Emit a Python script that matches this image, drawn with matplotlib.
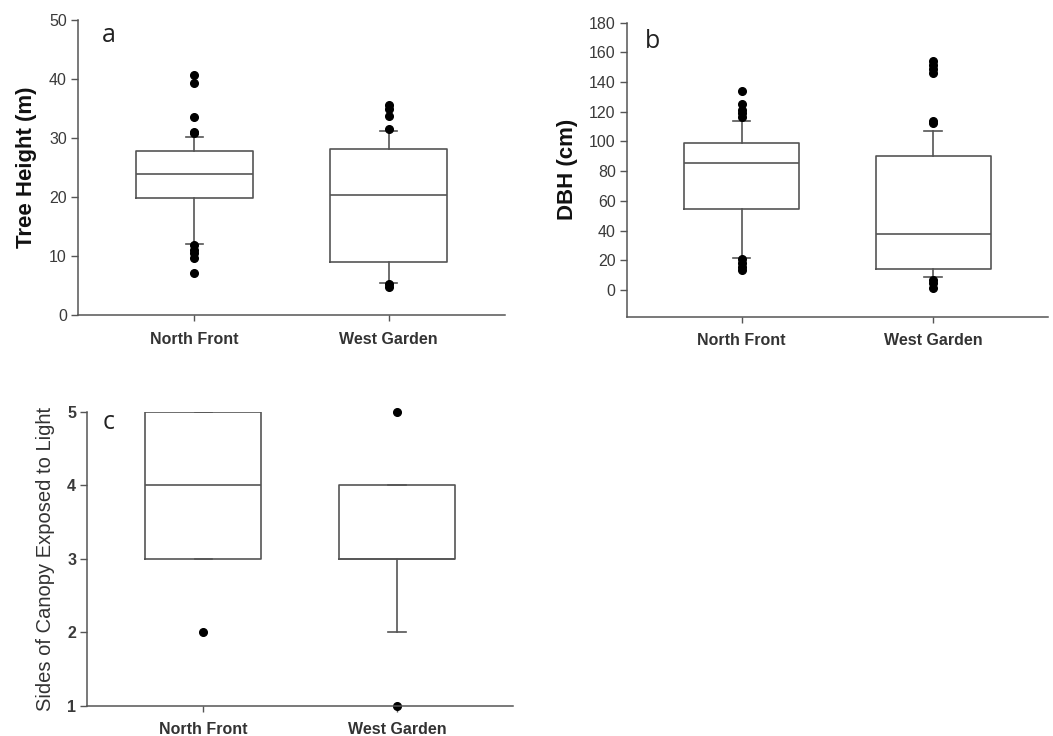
import matplotlib
matplotlib.use("Agg")
import matplotlib.pyplot as plt

plt.rcParams['font.family'] = ['Liberation Sans', 'DejaVu Sans']

sites = ["North Front", "West Garden"]

# tree height (m)
height_q1 = [19.8, 9.0]
height_med = [23.9, 20.4]
height_q3 = [27.8, 28.1]
height_lo = [12.1, 5.5]
height_hi = [30.1, 31.2]
height_out = [[40.6, 39.3, 33.6, 31.1, 30.8, 11.9, 11.0, 10.5, 9.6, 7.1],
              [35.6, 34.9, 33.7, 31.6, 5.2, 4.7]]

# diameter at breast height (cm)
dbh_q1 = [54.3, 13.9]
dbh_med = [85.7, 37.9]
dbh_q3 = [99.3, 90.0]
dbh_lo = [21.6, 8.7]
dbh_hi = [113.8, 107.0]
dbh_out = [[134.2, 125.3, 121.2, 119.0, 116.3, 20.7, 18.0, 15.7, 13.5],
           [154.2, 151.5, 148.5, 145.9, 113.5, 112.2, 6.7, 4.5, 1.1]]

# sides of canopy exposed to light
light_q1 = [3, 3]
light_med = [4, 3]
light_q3 = [5, 4]
light_lo = [3, 2]
light_hi = [5, 4]
light_out = [[2], [5, 1]]

line_col = '#555555'
text_col = '#3a3a3a'


def stats(q1, med, q3, lo, hi, out):
    res = []
    for i in range(len(q1)):
        res.append(dict(med=med[i], q1=q1[i], q3=q3[i], whislo=lo[i],
                        whishi=hi[i], fliers=out[i], label=sites[i]))
    return res


def boxpanel(ax, st):
    parts = ax.bxp(st, positions=[1, 2], widths=0.6, capwidths=0.09,
                   boxprops=dict(color=line_col, lw=1.2),
                   medianprops=dict(color=line_col, lw=1.2),
                   whiskerprops=dict(color=line_col, lw=1.2),
                   capprops=dict(color=line_col, lw=1.2),
                   flierprops=dict(marker='o', markerfacecolor='black',
                                   markeredgecolor='black', markersize=5.5))
    for f in parts['fliers']:
        f.set_clip_on(False)
    ax.set_xlim(0.4, 2.6)
    for s in ['top', 'right']:
        ax.spines[s].set_visible(False)
    for s in ['left', 'bottom']:
        ax.spines[s].set_color(line_col)
        ax.spines[s].set_linewidth(1.1)
    ax.tick_params(axis='y', direction='out', length=5, width=1,
                   color=line_col, labelsize=11.5, labelcolor=text_col, pad=3)
    ax.tick_params(axis='x', direction='out', length=4, width=1,
                   color=line_col, pad=8)
    for lab in ax.get_xticklabels():
        lab.set_fontsize(11.5)
        lab.set_fontweight('bold')
        lab.set_color('#333333')


def letter(ax, x, y, s):
    ax.text(x, y, s, transform=ax.transAxes, fontsize=18, family='Open Sans',
            va='baseline', ha='left', color='#222222')


fig = plt.figure(figsize=(10.53, 7.36), dpi=100)

ax_a = fig.add_axes([0.0741, 0.572, 0.4055, 0.4008])
boxpanel(ax_a, stats(height_q1, height_med, height_q3, height_lo, height_hi, height_out))
ax_a.set_ylim(0, 50)
ax_a.set_yticks(range(0, 51, 10))
ax_a.set_ylabel("Tree Height (m)", fontsize=16, fontweight='bold', color='#111111', labelpad=9)
letter(ax_a, 0.056, 0.925, "a")

ax_b = fig.add_axes([0.5952, 0.5697, 0.4, 0.3995])
boxpanel(ax_b, stats(dbh_q1, dbh_med, dbh_q3, dbh_lo, dbh_hi, dbh_out))
ax_b.set_ylim(-18, 180)
ax_b.set_yticks(range(0, 181, 20))
ax_b.set_ylabel("DBH (cm)", fontsize=16, fontweight='bold', color='#111111', labelpad=8)
letter(ax_b, 0.044, 0.914, "b")

ax_c = fig.add_axes([0.0829, 0.0412, 0.4043, 0.3995])
boxpanel(ax_c, stats(light_q1, light_med, light_q3, light_lo, light_hi, light_out))
ax_c.set_ylim(1, 5)
ax_c.set_yticks([1, 2, 3, 4, 5])
for lab in ax_c.get_yticklabels():
    lab.set_fontweight('bold')
ax_c.set_ylabel("Sides of Canopy Exposed to Light", fontsize=14.5, color='#333333', labelpad=9)
letter(ax_c, 0.036, 0.941, "c")

fig.savefig("out.png", dpi=100)
